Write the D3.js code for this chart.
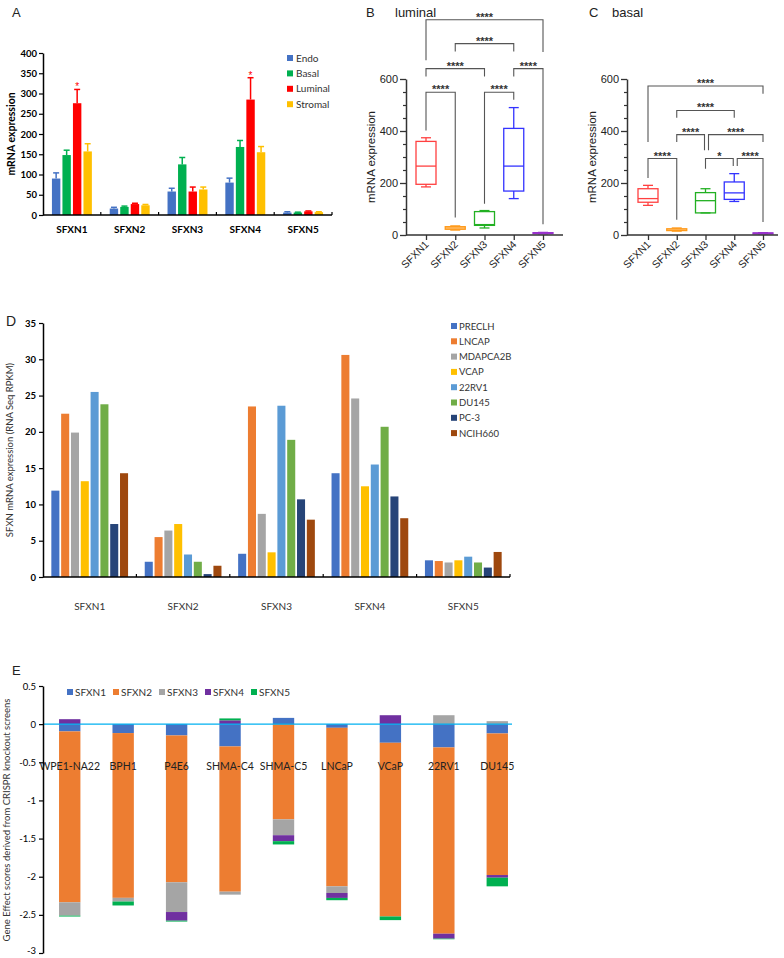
<!DOCTYPE html>
<html><head><meta charset="utf-8">
<script src="https://cdn.jsdelivr.net/npm/d3@7"></script>
<style>body{margin:0;background:#fff}svg{display:block}</style>
</head><body>
<svg id="c" width="784" height="958"></svg>
<script>
// ---------- data ----------
const genes = ["SFXN1","SFXN2","SFXN3","SFXN4","SFXN5"];

// Panel A
const cellTypes = ["Endo","Basal","Luminal","Stromal"];
const aEndo = [90, 16, 58, 80, 6];
const aBasal = [148, 20, 125, 168, 6];
const aLuminal = [276, 27, 58, 285, 9];
const aStromal = [157, 24, 63, 155, 7];
const aEndoErr = [14, 3, 8, 11, 2];
const aBasalErr = [12, 2, 17, 16, 1];
const aLuminalErr = [34, 2, 11, 54, 1];
const aStromalErr = [19, 2, 6, 14, 1];
const aStars = [{gene:"SFXN1", type:"Luminal", value:323}, {gene:"SFXN4", type:"Luminal", value:350}];
const aTicks = [0,50,100,150,200,250,300,350,400];

// Panel B (luminal) box stats
const lumMin = [185, 19, 27, 140, 5];
const lumQ1  = [195, 22, 37, 169, 7];
const lumMed = [265, 27, 40, 265, 8];
const lumQ3  = [360, 32, 90, 410, 9];
const lumMax = [374, 35, 94, 490, 10];
// brackets: [fromIdx, toIdx, level, leftLegEnd, rightLegEnd, label]
const lumBrackets = [
  [0,1,549,402,67,"****"],
  [2,3,549,120,520,"****"],
  [0,2,640,610,610,"****"],
  [3,4,640,610,41,"****"],
  [1,3,736,706,706,"****"],
  [0,4,828,672,704,"****"]
];
// Panel C (basal)
const basMin = [114, 15, 85, 129, 5];
const basQ1  = [126, 17, 85, 137, 6];
const basMed = [140, 19, 132, 162, 7];
const basQ3  = [178, 24, 163, 204, 8];
const basMax = [191, 27, 178, 236, 9];
const basBrackets = [
  [0,1,294,219,59,"****"],
  [2,3,294,255,265,"*"],
  [3,4,294,265,50,"****"],
  [1,2,386,358,326,"****"],
  [2,4,386,326,358,"****"],
  [1,3,479,451,451,"****"],
  [0,4,573,358,543,"****"]
];
const boxTicks = [0,200,400,600];

// Panel D
const cellLinesD = ["PRECLH","LNCAP","MDAPCA2B","VCAP","22RV1","DU145","PC-3","NCIH660"];
const dPRECLH   = [11.9, 2.1, 3.2, 14.3, 2.3];
const dLNCAP    = [22.5, 5.5, 23.5, 30.6, 2.2];
const dMDAPCA2B = [19.9, 6.4, 8.7, 24.6, 2.0];
const dVCAP     = [13.2, 7.3, 3.4, 12.5, 2.3];
const d22RV1    = [25.5, 3.1, 23.6, 15.5, 2.8];
const dDU145    = [23.8, 2.1, 18.9, 20.7, 2.0];
const dPC3      = [7.3, 0.4, 10.7, 11.1, 1.3];
const dNCIH660  = [14.3, 1.55, 7.9, 8.1, 3.45];
const dTicks = [0,5,10,15,20,25,30,35];

// Panel E
const cellLinesE = ["WPE1-NA22","BPH1","P4E6","SHMA-C4","SHMA-C5","LNCaP","VCaP","22RV1","DU145"];
const eSFXN1 = [-0.095, -0.117, -0.148, -0.292, 0.082, -0.048, -0.244, -0.305, -0.122];
const eSFXN2 = [-2.24, -2.16, -1.925, -1.904, -1.248, -2.078, -2.277, -2.442, -1.856];
const eSFXN3 = [-0.175, -0.048, -0.39, -0.039, -0.208, -0.087, 0, 0.117, 0.039];
const eSFXN4 = [0.065, 0, -0.113, 0.05, -0.078, -0.065, 0.117, -0.065, -0.035];
const eSFXN5 = [-0.012, -0.052, -0.012, 0.025, -0.043, -0.03, -0.048, -0.008, -0.113];
const eTicks = [0.5,0,-0.5,-1,-1.5,-2,-2.5,-3];

// ---------- drawing ----------
const svg = d3.select("#c");
const XL = "Lato, 'Open Sans', sans-serif";
const AR = "'Liberation Sans', Arial, sans-serif";

function panelLetter(t, x, y, size){
  svg.append("text").attr("x",x).attr("y",y).attr("font-family",AR).attr("font-size",size||13).attr("fill","#222").text(t);
}

// ===== Panel A =====
{
  const colors = {Endo:"#4472C4", Basal:"#00B050", Luminal:"#FF0000", Stromal:"#FFC000"};
  const means = {Endo:aEndo, Basal:aBasal, Luminal:aLuminal, Stromal:aStromal};
  const errs = {Endo:aEndoErr, Basal:aBasalErr, Luminal:aLuminalErr, Stromal:aStromalErr};
  const x = d3.scaleBand().domain(genes).range([43, 332]);
  const xi = d3.scaleBand().domain(cellTypes).range([0, x.bandwidth()]).paddingInner(0.2).paddingOuter(0.85);
  const y = d3.scaleLinear().domain([0,400]).range([215, 53]);
  const g = svg.append("g");
  panelLetter("A", 12, 17);
  cellTypes.forEach(ct => {
    const gg = g.append("g");
    gg.selectAll("rect").data(genes).join("rect")
      .attr("x", d => x(d) + xi(ct)).attr("width", xi.bandwidth())
      .attr("y", (d,i) => y(means[ct][i])).attr("height", (d,i) => y(0) - y(means[ct][i]))
      .attr("fill", colors[ct]);
    gg.selectAll("line.v").data(genes).join("line").attr("class","v")
      .attr("x1", d => x(d) + xi(ct) + xi.bandwidth()/2).attr("x2", d => x(d) + xi(ct) + xi.bandwidth()/2)
      .attr("y1", (d,i) => y(means[ct][i])).attr("y2", (d,i) => y(means[ct][i] + errs[ct][i]))
      .attr("stroke", colors[ct]).attr("stroke-width", 1.5);
    gg.selectAll("line.c").data(genes).join("line").attr("class","c")
      .attr("x1", d => x(d) + xi(ct) + xi.bandwidth()/2 - 3).attr("x2", d => x(d) + xi(ct) + xi.bandwidth()/2 + 3)
      .attr("y1", (d,i) => y(means[ct][i] + errs[ct][i])).attr("y2", (d,i) => y(means[ct][i] + errs[ct][i]))
      .attr("stroke", colors[ct]).attr("stroke-width", 1.5);
  });
  g.selectAll("text.star").data(aStars).join("text").attr("class","star")
    .attr("x", d => x(d.gene) + xi(d.type) + xi.bandwidth()/2).attr("y", d => y(d.value) + 6)
    .attr("text-anchor","middle").attr("font-family",AR).attr("font-size",10).attr("fill","#FF0000").text("*");
  const ya = g.append("g").attr("transform","translate(43,0)")
    .call(d3.axisLeft(y).tickValues(aTicks).tickSize(4).tickSizeOuter(0));
  ya.select(".domain").attr("stroke","#000").attr("stroke-width",1.5);
  ya.selectAll(".tick line").attr("stroke","#000").attr("stroke-width",1.2);
  ya.selectAll("text").attr("font-family",XL).attr("font-weight","bold").attr("font-size",9.5).attr("fill","#000").attr("x",-6);
  // x axis
  g.append("line").attr("x1",43).attr("x2",332).attr("y1",y(0)).attr("y2",y(0)).attr("stroke","#000").attr("stroke-width",1.5);
  g.selectAll("line.xt").data(genes.slice(1).concat(["_end"])).join("line").attr("class","xt")
    .attr("x1", d => d==="_end" ? 332 : x(d)).attr("x2", d => d==="_end" ? 332 : x(d))
    .attr("y1", y(0)).attr("y2", y(0)-3).attr("stroke","#000").attr("stroke-width",1.2);
  g.selectAll("text.xl").data(genes).join("text").attr("class","xl")
    .attr("x", d => x(d) + x.bandwidth()/2).attr("y", 233).attr("text-anchor","middle")
    .attr("font-family",XL).attr("font-weight","bold").attr("font-size",10).attr("fill","#000").text(d => d);
  g.append("text").attr("transform",`translate(15,${(53+215)/2}) rotate(-90)`).attr("text-anchor","middle")
    .attr("font-family",XL).attr("font-weight","bold").attr("font-size",10.5).attr("fill","#000").text("mRNA expression");
  const lg = g.selectAll("g.leg").data(cellTypes).join("g").attr("class","leg")
    .attr("transform",(d,i) => `translate(287,${58 + i*15.4})`);
  lg.append("rect").attr("x",0).attr("y",-3).attr("width",6).attr("height",6).attr("fill",d => colors[d]);
  lg.append("text").attr("x",9).attr("y",3.5).attr("font-family",XL).attr("font-size",10).attr("fill","#333").text(d => d);
}

// ===== Panels B and C =====
const boxColors = ["#ff4040","#ff9a1a","#22b022","#3333ff","#9933cc"];
function boxPanel(opts){
  const {axisX, axisEnd, p0, p1, mins, q1s, meds, q3s, maxs, brackets, letter, letterX, title, titleX, labelX} = opts;
  const x = d3.scalePoint().domain(genes).range([p0, p1]);
  const y = d3.scaleLinear().domain([0,600]).range([235, 79]);
  const g = svg.append("g");
  panelLetter(letter, letterX, 17);
  g.append("text").attr("x",titleX).attr("y",17).attr("font-family",AR).attr("font-size",13).attr("fill","#222").text(title);
  const bw = 20, cw = 10;
  genes.forEach((gname, i) => {
    const cx = x(gname), col = boxColors[i];
    const bg = g.append("g").attr("stroke", col).attr("stroke-width",1.3).attr("fill","none");
    bg.append("line").attr("x1",cx).attr("x2",cx).attr("y1",y(maxs[i])).attr("y2",y(q3s[i]));
    bg.append("line").attr("x1",cx).attr("x2",cx).attr("y1",y(q1s[i])).attr("y2",y(mins[i]));
    bg.append("line").attr("x1",cx-cw/2).attr("x2",cx+cw/2).attr("y1",y(maxs[i])).attr("y2",y(maxs[i]));
    bg.append("line").attr("x1",cx-cw/2).attr("x2",cx+cw/2).attr("y1",y(mins[i])).attr("y2",y(mins[i]));
    bg.append("rect").attr("x",cx-bw/2).attr("width",bw).attr("y",y(q3s[i])).attr("height",Math.max(1,y(q1s[i])-y(q3s[i])));
    bg.append("line").attr("x1",cx-bw/2).attr("x2",cx+bw/2).attr("y1",y(meds[i])).attr("y2",y(meds[i]));
  });
  // brackets
  brackets.forEach((b, k) => {
    const [a, c, lvl, la, lb, lab] = b;
    const shared = brackets.some((o, m) => m !== k && o[1] === a && o[2] === lvl);
    const xa = x(genes[a]) + (shared ? 3 : 0);
    const sharedR = brackets.some((o, m) => m !== k && o[0] === c && o[2] === lvl);
    const xb = x(genes[c]) - (sharedR ? 1 : 0);
    g.append("path").attr("d", `M${xa},${y(la)}V${y(lvl)}H${xb}V${y(lb)}`)
      .attr("fill","none").attr("stroke","#555").attr("stroke-width",1.1);
    g.append("text").attr("x",(xa+xb)/2).attr("y",y(lvl)+1).attr("text-anchor","middle")
      .attr("font-family",AR).attr("font-size",11).attr("font-weight","bold").attr("fill","#333").text(lab);
  });
  // axes
  const ya = g.append("g").attr("transform",`translate(${axisX},0)`)
    .call(d3.axisLeft(y).tickValues(boxTicks).tickSize(6).tickSizeOuter(0));
  ya.select(".domain").attr("stroke","#333").attr("stroke-width",1.5);
  ya.selectAll(".tick line").attr("stroke","#333").attr("stroke-width",1.3);
  ya.selectAll("text").attr("font-family",AR).attr("font-size",11).attr("fill","#222").attr("x",-8);
  const ym = g.append("g").attr("transform",`translate(${axisX},0)`)
    .call(d3.axisLeft(y).tickValues(d3.range(50,600,50).filter(v => v % 200 !== 0)).tickSize(3).tickFormat(""));
  ym.select(".domain").remove();
  ym.selectAll(".tick line").attr("stroke","#333").attr("stroke-width",1.2);
  const xa = g.append("g").attr("transform",`translate(0,${y(0)})`)
    .call(d3.axisBottom(x).tickSize(5).tickSizeOuter(0));
  xa.select(".domain").attr("d",`M${axisX},0H${axisEnd}`).attr("stroke","#333").attr("stroke-width",1.5);
  xa.selectAll(".tick line").attr("stroke","#333").attr("stroke-width",1.3);
  xa.selectAll("text").attr("font-family",AR).attr("font-size",10.5).attr("fill","#222")
    .attr("text-anchor","end").attr("dy",0).attr("y",0).attr("transform","translate(3,10) rotate(-45)");
  g.append("text").attr("transform",`translate(${labelX},${(79+235)/2}) rotate(-90)`).attr("text-anchor","middle")
    .attr("font-family",AR).attr("font-size",11.5).attr("fill","#222").text("mRNA expression");
}
boxPanel({axisX:406, axisEnd:563, p0:426, p1:543, mins:lumMin, q1s:lumQ1, meds:lumMed, q3s:lumQ3, maxs:lumMax,
  brackets:lumBrackets, letter:"B", letterX:366, title:"luminal", titleX:395, labelX:375});
boxPanel({axisX:627, axisEnd:778, p0:648, p1:763, mins:basMin, q1s:basQ1, meds:basMed, q3s:basQ3, maxs:basMax,
  brackets:basBrackets, letter:"C", letterX:589, title:"basal", titleX:612, labelX:596});

// ===== Panel D =====
{
  const colors = ["#4472C4","#ED7D31","#A5A5A5","#FFC000","#5B9BD5","#70AD47","#264478","#9E480E"];
  const series = [dPRECLH, dLNCAP, dMDAPCA2B, dVCAP, d22RV1, dDU145, dPC3, dNCIH660];
  const x = d3.scaleBand().domain(genes).range([43, 510]);
  const xi = d3.scaleBand().domain(cellLinesD).range([0, x.bandwidth()]).paddingInner(0.18).paddingOuter(0.85);
  const y = d3.scaleLinear().domain([0,35]).range([577, 323]);
  const g = svg.append("g");
  panelLetter("D", 6, 326, 14);
  cellLinesD.forEach((cl, k) => {
    g.append("g").selectAll("rect").data(genes).join("rect")
      .attr("x", d => x(d) + xi(cl)).attr("width", xi.bandwidth())
      .attr("y", (d,i) => y(series[k][i])).attr("height", (d,i) => y(0) - y(series[k][i]))
      .attr("fill", colors[k]);
  });
  const ya = g.append("g").attr("transform","translate(43,0)")
    .call(d3.axisLeft(y).tickValues(dTicks).tickSize(4).tickSizeOuter(0));
  ya.select(".domain").attr("stroke","#000").attr("stroke-width",1.5);
  ya.selectAll(".tick line").attr("stroke","#000").attr("stroke-width",1.2);
  ya.selectAll("text").attr("font-family",XL).attr("font-weight","bold").attr("font-size",9.5).attr("fill","#000").attr("x",-7);
  g.append("line").attr("x1",43).attr("x2",510).attr("y1",y(0)).attr("y2",y(0)).attr("stroke","#000").attr("stroke-width",1.5);
  g.selectAll("line.xt").data(genes.slice(1).concat(["_end"])).join("line").attr("class","xt")
    .attr("x1", d => d==="_end" ? 510 : x(d)).attr("x2", d => d==="_end" ? 510 : x(d))
    .attr("y1", y(0)).attr("y2", y(0)-3).attr("stroke","#000").attr("stroke-width",1.2);
  g.selectAll("text.xl").data(genes).join("text").attr("class","xl")
    .attr("x", d => x(d) + x.bandwidth()/2).attr("y", 610).attr("text-anchor","middle")
    .attr("font-family",XL).attr("font-size",10).attr("fill","#333").text(d => d);
  g.append("text").attr("transform",`translate(13,${(323+577)/2}) rotate(-90)`).attr("text-anchor","middle")
    .attr("font-family",XL).attr("font-size",9.5).attr("fill","#333").text("SFXN mRNA expression (RNA Seq RPKM)");
  const lg = g.selectAll("g.leg").data(cellLinesD).join("g").attr("class","leg")
    .attr("transform",(d,i) => `translate(451,${326 + i*15.3})`);
  lg.append("rect").attr("x",0).attr("y",-3).attr("width",6).attr("height",6).attr("fill",(d,i) => colors[i]);
  lg.append("text").attr("x",8).attr("y",3.5).attr("font-family",XL).attr("font-size",9.5).attr("fill","#333").text(d => d);
}

// ===== Panel E =====
{
  const colors = ["#4472C4","#ED7D31","#A5A5A5","#7030A0","#00B050"];
  const vals = [eSFXN1, eSFXN2, eSFXN3, eSFXN4, eSFXN5];
  const rows = cellLinesE.map((c, j) => {
    const r = {line:c};
    genes.forEach((gn, k) => r[gn] = vals[k][j]);
    return r;
  });
  const stack = d3.stack().keys(genes).offset(d3.stackOffsetDiverging)(rows);
  const x = d3.scaleBand().domain(cellLinesE).range([43, 524]).paddingInner(0.6).paddingOuter(0.3);
  const y = d3.scaleLinear().domain([-3, 0.5]).range([953, 686]);
  const g = svg.append("g");
  panelLetter("E", 12, 675, 13);
  stack.forEach((s, k) => {
    g.append("g").selectAll("rect").data(s).join("rect")
      .attr("x", d => x(d.data.line)).attr("width", x.bandwidth())
      .attr("y", d => y(Math.max(d[0], d[1]))).attr("height", d => Math.abs(y(d[0]) - y(d[1])))
      .attr("fill", colors[k]);
  });
  g.append("line").attr("x1",43).attr("x2",512).attr("y1",y(0)).attr("y2",y(0)).attr("stroke","#00B0F0").attr("stroke-width",1.3);
  const ya = g.append("g").attr("transform","translate(43,0)")
    .call(d3.axisLeft(y).tickValues(eTicks).tickSize(4).tickSizeOuter(0).tickFormat(d => String(d)));
  ya.select(".domain").attr("stroke","#000").attr("stroke-width",1.5);
  ya.selectAll(".tick line").attr("stroke","#000").attr("stroke-width",1.2);
  ya.selectAll("text").attr("font-family",XL).attr("font-size",9.5).attr("fill","#000").attr("x",-7)
    .attr("dy", d => d === -3 ? "0.05em" : "0.32em");
  g.selectAll("text.cl").data(cellLinesE).join("text").attr("class","cl")
    .attr("x", d => x(d) + x.bandwidth()/2).attr("y", y(-0.55) + 4).attr("text-anchor","middle")
    .attr("font-family",XL).attr("font-size",10.5).attr("fill","#222").text(d => d);
  g.append("text").attr("transform",`translate(10,${(686+954)/2}) rotate(-90)`).attr("text-anchor","middle")
    .attr("font-family",XL).attr("font-size",9.5).attr("fill","#333").text("Gene Effect scores derived from CRISPR knockout  screens");
  const lg = g.selectAll("g.leg").data(genes).join("g").attr("class","leg")
    .attr("transform",(d,i) => `translate(${67 + i*46},692)`);
  lg.append("rect").attr("x",0).attr("y",-3).attr("width",6).attr("height",6).attr("fill",(d,i) => colors[i]);
  lg.append("text").attr("x",8).attr("y",3.5).attr("font-family",XL).attr("font-size",10).attr("fill","#333").text(d => d);
}
</script>
</body></html>
